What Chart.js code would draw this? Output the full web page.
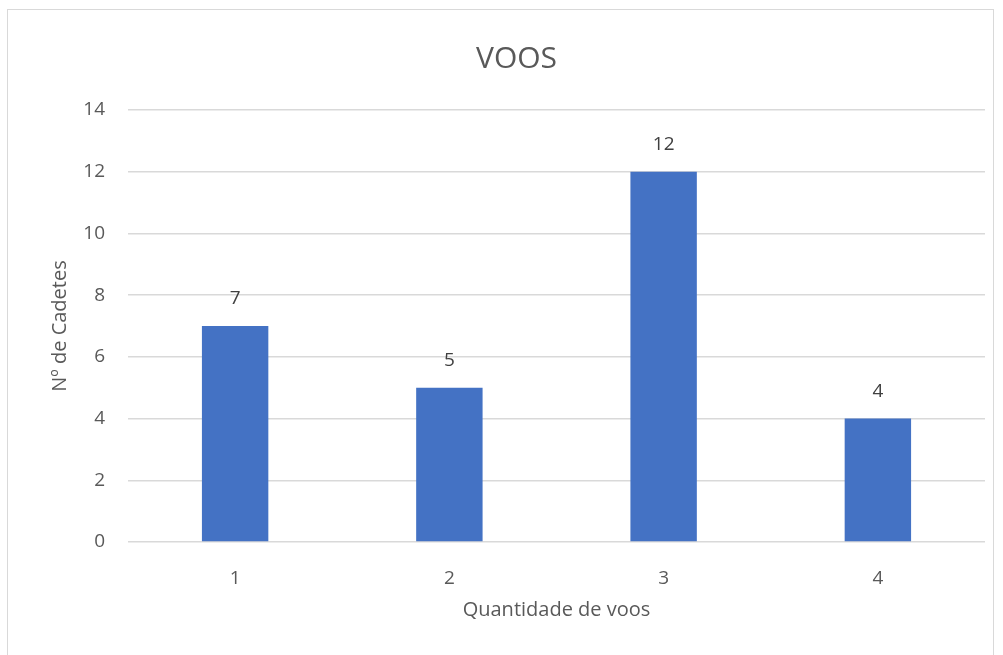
<!DOCTYPE html>
<html><head><meta charset="utf-8">
<script src="https://cdn.jsdelivr.net/npm/chart.js@4"></script>
<style>
html,body{margin:0;padding:0;background:#fff;overflow:hidden;}
#wrap{position:relative;width:1003px;height:655px;}
#frame{position:absolute;left:7px;top:9px;width:987px;height:700px;border:1.5px solid #d9d9d9;box-sizing:border-box;}
canvas{position:absolute;left:0;top:0;}
</style></head>
<body><div id="wrap"><div id="frame"></div><canvas id="c" width="1003" height="655"></canvas></div>
<script>
const categories = ['1','2','3','4'];
const cadetes = [7,5,12,4];
const chartTitle = 'VOOS';
const xTitle = 'Quantidade de voos';
const yTitle = 'Nº de Cadetes';
const FONT = "'Open Sans', sans-serif";

const labelPlugin = {
  id:'vals',
  afterDatasetsDraw(chart){
    const ctx = chart.ctx;
    const meta = chart.getDatasetMeta(0);
    ctx.save();
    ctx.fillStyle='#404040';
    ctx.font = "19px " + FONT;
    ctx.textAlign='center';
    ctx.textBaseline='middle';
    meta.data.forEach((bar,i)=>{
      ctx.fillText(String(chart.data.datasets[0].data[i]), bar.x, bar.y-27);
    });
    ctx.restore();
  }
};

new Chart(document.getElementById('c'),{
  type:'bar',
  data:{labels:categories,datasets:[{data:cadetes,backgroundColor:'#4472C4',categoryPercentage:1,barPercentage:0.31}]},
  options:{
    responsive:false,animation:false,
    layout:{padding:{left:48,right:18,top:32,bottom:33}},
    plugins:{
      legend:{display:false},tooltip:{enabled:false},
      title:{display:true,text:chartTitle,color:'#595959',font:{family:FONT,size:30,weight:'normal'},padding:{top:9,bottom:33}}
    },
    scales:{
      x:{
        grid:{display:false},border:{display:false},
        ticks:{color:'#595959',font:{family:FONT,size:19},padding:17},
        title:{display:true,text:xTitle,color:'#595959',font:{family:FONT,size:20},padding:{top:8,bottom:0}},
        afterFit(s){s.height=80;}
      },
      y:{
        min:0,max:14,
        grid:{color:'#d9d9d9',lineWidth:1.5,drawTicks:false},border:{display:false},
        ticks:{stepSize:2,color:'#595959',font:{family:FONT,size:19},padding:23},
        title:{display:true,text:yTitle,color:'#595959',font:{family:FONT,size:20},padding:{top:0,bottom:0}},
        afterFit(s){s.width=80;}
      }
    }
  },
  plugins:[labelPlugin]
});
</script></body></html>
